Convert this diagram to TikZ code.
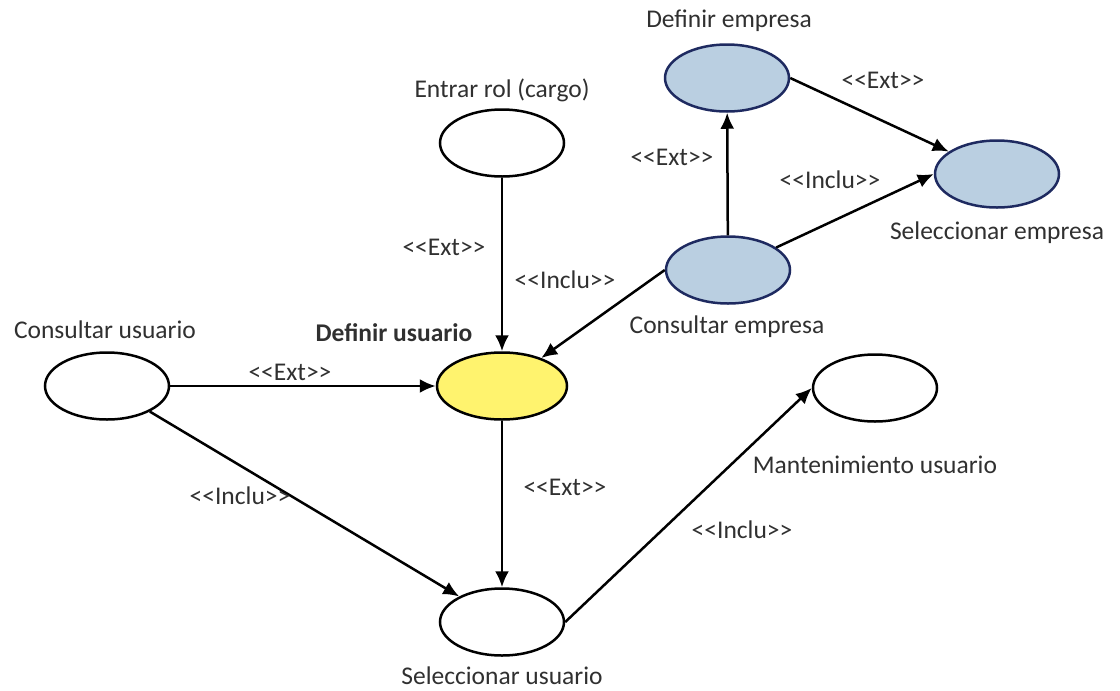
\documentclass[tikz,border=0pt]{standalone}
\usepackage{fontspec}
\setmainfont{Carlito}
\usetikzlibrary{shapes.geometric,arrows.meta}
\definecolor{txt}{HTML}{303030}
\definecolor{ucyellow}{HTML}{FFF36E}
\definecolor{ucblue}{HTML}{BACFE1}
\definecolor{ucnavy}{HTML}{1E2A60}
% stereotype brackets, kept as two separate characters
\newcommand{\stleft}{<\kern0pt<}
\newcommand{\stright}{>\kern0pt>}
\tikzset{
  usecase/.style={ellipse, draw=black, line width=2.5pt, fill=white,
    minimum width=124pt, minimum height=67pt, inner sep=0pt},
  company/.style={usecase, draw=ucnavy, fill=ucblue},
  current/.style={usecase, fill=ucyellow, minimum width=130pt},
  caption/.style={text=txt, inner sep=0pt, font=\fontsize{25.5pt}{30pt}\selectfont},
  rel/.style={text=txt, inner sep=0pt, font=\fontsize{25.5pt}{30pt}\selectfont},
  link/.style={line width=2.5pt, -{Latex[length=16pt,width=14pt]}},
}
\begin{document}
\begin{tikzpicture}[x=1pt, y=-1pt]
\path[use as bounding box] (0,0) rectangle (1120,691);

% use cases
\node[usecase] (er) at (502,143) {};
\node[company] (de) at (727,78) {};
\node[company] (se) at (997,174) {};
\node[company] (ce) at (728,270) {};
\node[current] (du) at (502,386) {};
\node[usecase] (cu) at (107,386) {};
\node[usecase] (mu) at (875,388) {};
\node[usecase] (su) at (502,622) {};

% names of the use cases
\node[caption] (er-t) at (502,90) {Entrar rol (cargo)};
\node[caption] (de-t) at (729,21) {Definir empresa};
\node[caption] (se-t) at (997,233) {Seleccionar empresa};
\node[caption] (ce-t) at (727,327) {Consultar empresa};
\node[caption, font=\fontsize{25.5pt}{30pt}\selectfont\bfseries] (du-t) at (394,333) {Definir usuario};
\node[caption] (cu-t) at (105,330) {Consultar usuario};
\node[caption] (mu-t) at (875,465) {Mantenimiento usuario};
\node[caption] (su-t) at (502,676) {Seleccionar usuario};

% relations
\draw[link] (er) -- (du);
\draw[link] (ce.west) -- (du);
\draw[link] (ce) -- (de);
\draw[link] (ce) -- (se.west);
\draw[link] (de.east) -- (se);
\draw[link] (cu) -- (du);
\draw[link] (cu) -- (su);
\draw[link] (du) -- (su);
\draw[link] (su.east) -- (mu.west);

% stereotypes
\node[rel] (l1) at (444,247) {\stleft Ext\stright};
\node[rel] (l2) at (565,280) {\stleft Inclu\stright};
\node[rel] (l3) at (672,157) {\stleft Ext\stright};
\node[rel] (l4) at (883,80) {\stleft Ext\stright};
\node[rel] (l5) at (830,180) {\stleft Inclu\stright};
\node[rel] (l6) at (290,372) {\stleft Ext\stright};
\node[rel] (l7) at (240,496) {\stleft Inclu\stright};
\node[rel] (l8) at (565,487) {\stleft Ext\stright};
\node[rel] (l9) at (742,530) {\stleft Inclu\stright};
\end{tikzpicture}
\end{document}
